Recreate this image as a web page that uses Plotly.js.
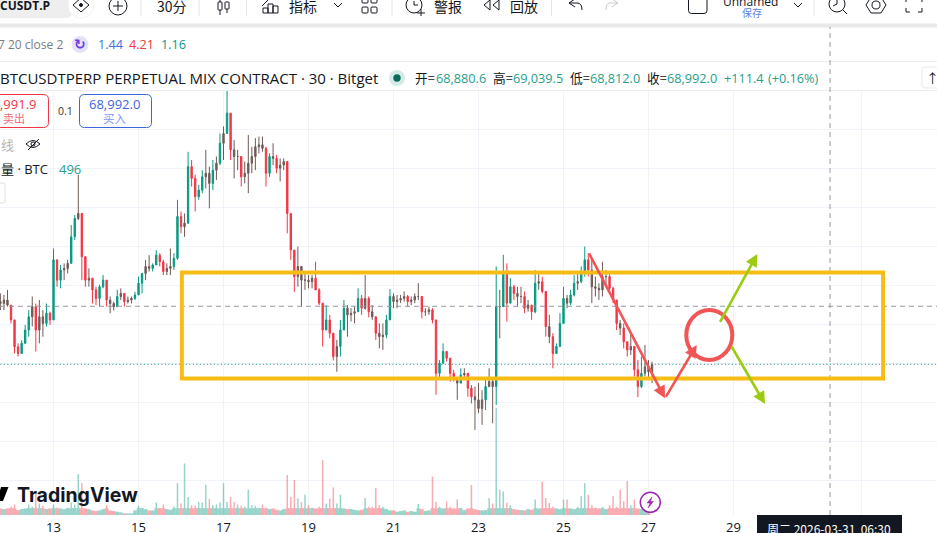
<!DOCTYPE html>
<html><head><meta charset="utf-8">
<script src="https://cdn.plot.ly/plotly-3.0.1.min.js"></script>
<style>html,body{margin:0;padding:0;background:#fff;overflow:hidden}#c{width:937px;height:533px}</style>
</head><body><div id="c"></div>
<script>
// 2-hour bars, first bar 2026-03-11 18:00
const firstBarMs = Date.UTC(2026,2,11,18);
const barMs = 2*3600*1000;
const firstOpen = 70600;
const highs = [
70810,70770,70900,70470,70130,69530,69610,70000,70380,70730,70550,70640,
70380,70550,70340,71960,71670,71540,71580,71670,72560,72820,73850,72820,
71500,71450,71150,70980,71030,71280,71110,70730,70600,70900,70940,70730,
70730,70730,70850,71240,71150,71670,71790,71580,71920,71840,71670,71580,
71960,71840,73210,72910,72860,74440,74230,73850,73590,73970,74490,74060,
74230,74320,74910,75090,76020,75430,74740,74490,74190,74190,74870,74570,
74790,74830,74830,74570,74400,74660,74360,74270,74270,73970,72860,71920,
72010,71410,71330,71280,71280,71620,70940,70560,70510,70260,69790,69620,70130,
70640,70510,70430,70470,70940,70770,71280,70730,70510,70210,70040,70040,
70260,70920,70810,70770,70770,70860,70770,70730,70810,71070,70730,70430,
70470,70430,70130,69100,69530,69270,69150,68850,68590,68890,68890,68760,
68460,68420,68510,68330,68590,68890,68590,71500,70900,71800,71580,71200,
71030,70980,70980,70860,70640,70510,71410,71330,71240,70860,70260,69790,
69530,70300,70980,70770,70900,71280,71330,71500,72010,71840,71670,71240,
71070,71620,71410,71330,70980,70560,70130,70040,69570,69790,69230,69100,
69190,69490,69100,69060];
const lows = [
70380,70380,70470,70040,69270,69190,69270,69530,69700,69960,69320,69530,
69700,69960,70000,70380,70980,70940,71150,71320,71580,72180,72690,71150,
70980,70980,70550,70510,70470,70940,70470,70300,70370,70470,70640,70470,
70550,70550,70640,70850,70810,71150,71370,71370,71580,71500,71280,71280,
71280,71410,71670,72350,72260,72820,73550,72910,73210,73380,73500,72990,
73460,73720,74100,74230,74910,74230,73760,73970,73550,73630,73380,73890,
73970,74400,74440,73550,73800,74100,73890,73680,73970,72350,71670,70850,
70980,70470,70900,70940,70940,70900,70510,69450,69920,69660,69090,68800,69190,
70130,69700,70090,70040,70340,70260,70390,70200,70130,69620,69400,69360,
69660,70340,70430,70430,70560,70600,70470,70510,70560,70640,70170,70230,
70260,70040,68210,68590,69020,69060,68550,68550,68080,68510,68660,68160,
67990,67310,67740,67440,67820,68460,67480,67950,69660,70900,70090,70560,
70640,70470,70560,70300,70340,70130,70300,70900,70810,69700,69530,68890,
69270,69450,70040,70430,70510,70730,70900,71070,71240,71240,70560,70730,
70640,70730,71030,70900,70560,69870,69740,69400,69190,69230,68680,68150,
68380,68680,68660,68510];
const closes = [
70550,70640,70510,70130,69440,69270,69530,69870,70210,70470,69870,70210,
70040,70300,70130,71670,71150,71410,71450,71580,72260,72730,72860,71750,
71150,71200,70900,70680,70980,71150,70640,70550,70470,70730,70810,70600,
70640,70680,70770,71070,71320,71500,71450,71540,71790,71620,71370,71450,
71500,71710,72780,72520,72610,74060,73760,73290,73460,73800,73890,73630,
73970,74150,74660,74910,75430,74490,74320,74320,73800,73890,74150,74320,
74570,74620,74530,73890,74320,74270,74020,74100,74190,72860,71920,71240,
71500,71150,71150,71110,71200,70900,70560,69870,70130,69790,69190,69450,69870,
70430,70260,70300,70340,70680,70430,70680,70340,70210,69790,69700,69740,
70130,70730,70600,70640,70680,70730,70600,70640,70730,70730,70340,70340,
70390,70130,68760,69020,69320,69150,68760,68630,68510,68720,68760,68380,
68160,68080,67860,68080,68420,68550,68420,70470,70470,71330,70560,70980,
70810,70730,70730,70430,70510,70340,71070,71110,70860,69960,69700,69270,
69450,70040,70680,70560,70770,71070,71110,71330,71670,71410,70980,70940,
70900,71240,71240,70940,70640,70040,69920,69570,69360,69450,68850,68420,
68760,68930,68800,68992];
const volumes = [
400,360,400,500,640,300,360,400,640,500,1400,700,
560,360,400,640,440,400,360,440,760,640,2500,1940,
400,360,280,240,280,360,600,280,240,200,160,100,
100,100,280,560,440,360,280,280,760,440,640,360,
320,500,1940,700,3140,1100,600,560,800,760,1840,1000,
600,640,760,1940,800,1100,800,640,560,500,1540,600,
560,440,640,440,360,400,320,280,360,2440,1100,2140,
1000,800,1240,600,440,400,500,3340,700,1000,1680,700,1240,
400,360,360,320,280,320,1040,500,500,1640,600,500,
360,280,280,200,240,280,200,240,200,680,360,240,
280,2340,800,500,400,840,500,400,940,440,300,400,
1840,360,300,280,300,1040,700,6540,1540,1440,740,600,
360,320,300,280,360,320,940,400,2040,1040,740,500,
400,360,940,940,400,360,500,1140,1940,1240,600,440,
400,500,360,600,1140,500,1540,840,2080,600,940,400,
360,240,480];
const tickDates = ["2026-03-13","2026-03-15","2026-03-17","2026-03-19","2026-03-21","2026-03-23","2026-03-25","2026-03-27","2026-03-29","2026-04-01"];
const tickLabels = ["13","15","17","19","21","23","25","27","29","4月"];
const lastPrice = 68992;
const crosshairPrice = 70480;
const crosshairTime = "2026-03-31 06:30";
const quietVolume = 420;
const zoneBox = {t0:"2026-03-16 00:29", t1:"2026-04-01 12:29", p0:68628, p1:71346};
const ring = {t0:"2026-03-27 21:20", t1:"2026-03-28 23:19", p0:69103, p1:70385};
const redArrows = [
  ["2026-03-25 14:01",71872,"2026-03-27 09:18",68120],
  ["2026-03-27 09:18",68120,"2026-03-28 03:13",69487]];
const greenArrows = [
  ["2026-03-28 15:59",70044,"2026-03-29 13:26",71820],
  ["2026-03-28 22:25",69487,"2026-03-29 17:47",67974]];

const UP='#089981', DOWN='#f23645', MIX='#6f5a56', DARK='#131722', GRID='#f0f3fa', RED='#f25555', GREEN='#9ccc10', YEL='#f8bd14';
const FONT='"Open Sans","Noto Sans CJK SC",sans-serif', CJK='"Noto Sans CJK SC","Noto Sans",sans-serif';
const times=closes.map((_,i)=>new Date(firstBarMs+i*barMs).toISOString().slice(0,16).replace('T',' '));
const opens=closes.map((_,i)=>i?closes[i-1]:firstOpen);
const volColors=closes.map((c,i)=>c>=opens[i]?'rgba(8,153,129,0.42)':'rgba(242,54,69,0.42)');

const X=p=>(p/937).toFixed(5), Y=p=>((515-p)/425).toFixed(5);
const shapes=[], annos=[];
const P=s=>s.replace(/(-?[\d.]+)[ ,]+(-?[\d.]+)/g,(m,a,b)=>X(+a)+','+Y(+b));
function path(s,o={}){shapes.push({type:'path',xref:'paper',yref:'paper',path:P(s),line:{color:o.c||DARK,width:o.w===undefined?1:o.w},fillcolor:o.f||'rgba(0,0,0,0)',layer:'above'});}
function rr(x0,y0,x1,y1,r,o){path(`M ${x0+r} ${y0} L ${x1-r} ${y0} Q ${x1} ${y0} ${x1} ${y0+r} L ${x1} ${y1-r} Q ${x1} ${y1} ${x1-r} ${y1} L ${x0+r} ${y1} Q ${x0} ${y1} ${x0} ${y1-r} L ${x0} ${y0+r} Q ${x0} ${y0} ${x0+r} ${y0} Z`,o);}
function circ(cx,cy,r,o={}){shapes.push({type:'circle',xref:'paper',yref:'paper',x0:X(cx-r),x1:X(cx+r),y0:Y(cy+r),y1:Y(cy-r),line:{color:o.c||DARK,width:o.w===undefined?1:o.w},fillcolor:o.f||'rgba(0,0,0,0)',layer:'above'});}
function T(text,x,y,o={}){annos.push({text,xref:'paper',yref:'paper',x:+X(x),y:+Y(y),xanchor:o.a||'left',yanchor:'middle',showarrow:false,borderpad:0,
  font:{family:o.fam||FONT,size:o.s||12.7,color:o.c||DARK,weight:o.b?700:400}});}

// header panels
rr(-20,-10,72,18,6,{f:'#eeeeee',w:0});
path('M 0 25.5 L 937 25.5',{c:'#e9e9e9',w:4});
path('M 0 61.5 L 937 61.5',{c:'#ececec'});
path('M 0 90.5 L 937 90.5',{c:'#ececec'});
for(const x of [141,199,246.5,392,551.5,814]) path(`M ${x} 0 L ${x} 16`,{c:'#e4e4e4'});
// toolbar icons
circ(81,5,13,{f:'#ffffff',c:'#f3f3f3'});
path('M 81 -2 L 89 5 L 81 12 L 73 5 Z');circ(81,5,1.5,{f:DARK});
circ(118,6,9);path('M 118 1 L 118 11 M 113 6 L 123 6');
rr(218,2,222,10,.5);path('M 220 10 L 220 15 M 220 -1 L 220 2');rr(225,2,229,9,.5);path('M 227 9 L 227 13');
path('M 263 13 L 263 8 L 268 8 L 268 13 M 268 13 L 268 4 L 273 4 L 273 13 M 273 13 L 273 6 L 278 6 L 278 13 L 263 13 M 262 6 L 268 0');
path('M 334 3 L 338 7 L 342 3');
for(const [a,b] of [[362,-3],[371,-3],[362,7],[371,7]]) rr(a,b,a+6,b+6,1,{});
circ(414,5,8);path('M 414 1 L 414 5 L 418 5');path('M 417 13 L 425 13 M 421 9 L 421 16');
path('M 490 0 L 484 5 L 490 10 Z M 499 0 L 493 5 L 499 10 Z');
path('M 575 -1 L 569 3 L 575 7 M 569 3 L 577 3 Q 582 3 582 10');
path('M 612 -1 L 618 3 L 612 7 M 618 3 L 610 3 Q 606 3 606 10',{c:'#c9c9c9'});
rr(688.5,-4,707,13.5,3,{});
path('M 794 3 L 798 7 L 802 3');
circ(837,4,8);path('M 843 10 L 847 14 M 837 0 L 837 4 L 833 6');
path('M 871 -3 L 881 -3 L 886 5 L 881 13 L 871 13 L 866 5 Z');circ(876,5,4);
path('M 906 8 L 906 12 L 910 12 M 918 12 L 922 12 L 922 8 M 906 2 L 906 -2 M 922 2 L 922 -2');
T('CUSDT.P',-1,5,{s:12,b:1});
T('30分',156,6,{s:14,fam:CJK});T('指标',288,6,{s:14,fam:CJK});T('警报',433,6,{s:14,fam:CJK});T('回放',509,6,{s:14,fam:CJK});
T('Unnamed',722,1,{s:12});T('保存',741,12.5,{s:10,c:'#5d84e8',fam:CJK});
// indicator row
T('7 20 close 2',-3,44.5,{s:12,c:'#787b86'});
circ(80,44.5,8.5,{f:'#e7e1f8',w:0});T('↻',80,44,{a:'center',s:14,c:'#6a3de0',fam:'DejaVu Sans',b:1});
T('1.44',97,44.5,{c:'#3f6fe0'});T('4.21',128,44.5,{c:DOWN});T('1.16',160,44.5,{c:UP});
// symbol row
T('BTCUSDTPERP PERPETUAL MIX CONTRACT · 30 · Bitget',-1,78,{s:15});
circ(397,78,8,{f:'#d4ece8',w:0});circ(397,78,3.7,{f:'#0b6b5a',w:0});
const tc='#26a08a';
T('开=',414,78,{fam:CJK});T('68,880.6',435,78,{c:tc});
T('高=',492,78,{fam:CJK});T('69,039.5',512,78,{c:tc});
T('低=',569,78,{fam:CJK});T('68,812.0',589,78,{c:tc});
T('收=',646,78,{fam:CJK});T('68,992.0',666,78,{c:tc});
T('+111.4',723,78,{c:tc});T('(+0.16%)',767,78,{c:tc});
rr(922,67,945,88,3,{c:'#e8e8e8'});T('↑',933,78,{a:'center',s:13});
// order buttons
rr(-30,94.5,48.5,127.5,5,{c:DOWN,f:'#ffffff'});
T(',991.9',38,104,{a:'right',s:13,c:DOWN});T('卖出',2,118,{s:11,c:'#ef6a77',fam:CJK});
T('0.1',57,110.5,{s:10.5,c:'#333'});
rr(79.5,94.5,151.5,127.5,5,{c:'#3b66d8',f:'#ffffff'});
T('68,992.0',115,104,{a:'center',s:13,c:'#3b66d8'});T('买入',115,118,{a:'center',s:11.5,c:'#7c9af0',fam:CJK});
// study legend
T('线',0,145,{s:13,c:'#b5b5b5',fam:CJK});
path('M 26 144 Q 33 137 40 144 Q 33 151 26 144 Z');circ(33,144,2);path('M 28 150 L 39 139');
T('量 · BTC',0,169,{s:13});T('496',58,169,{s:13,c:tc});
rr(-10,183,5,203,2,{c:'#e2e2e2'});
// watermark
path('M 1 487 L 8.5 487 L 3 501 L -3 501 Z',{f:'#000',w:0});
T('TradingView',16,495,{s:19.5,b:1,c:'#131722',fam:'Inter,"Open Sans",sans-serif'});
circ(650.3,502.3,10,{c:'#9c27b0',w:1.5,f:'#ffffff'});
path('M 652 497 L 647 503 L 650 503 L 648 508 L 653.5 501.5 L 650.5 501.5 Z',{f:'#9c27b0',c:'#9c27b0',w:.5});
// time label
shapes.push({type:'rect',xref:'paper',yref:'paper',x0:X(757),x1:X(902),y0:Y(540),y1:Y(515),fillcolor:'#131722',line:{width:0},layer:'above'});
T('周二 2026-03-31  06:30',766,529,{s:12,c:'#fff',fam:CJK});

// drawings on the chart scales
shapes.push({type:'line',xref:'x',yref:'y2',x0:times[0],x1:'2026-04-03',y0:lastPrice,y1:lastPrice,line:{color:'#0a8f78',width:1,dash:'1px,2.5px'},layer:'above'});
shapes.push({type:'line',xref:'paper',yref:'y2',x0:0,x1:1,y0:crosshairPrice,y1:crosshairPrice,line:{color:'#9598a1',width:1,dash:'5px,4px'},layer:'above'});
shapes.push({type:'line',xref:'x',yref:'paper',x0:crosshairTime,x1:crosshairTime,y0:0,y1:+Y(27),line:{color:'#9598a1',width:1,dash:'5px,4px'},layer:'above'});
shapes.push({type:'rect',xref:'x',yref:'y2',x0:zoneBox.t0,x1:zoneBox.t1,y0:zoneBox.p0,y1:zoneBox.p1,line:{color:YEL,width:4},fillcolor:'rgba(0,0,0,0)',layer:'above'});
shapes.push({type:'circle',xref:'x',yref:'y2',x0:ring.t0,x1:ring.t1,y0:ring.p0,y1:ring.p1,line:{color:RED,width:4},fillcolor:'rgba(0,0,0,0)',layer:'above'});
function arrow(a,c){annos.push({xref:'x',yref:'y2',axref:'x',ayref:'y2',x:a[2],y:a[3],ax:a[0],ay:a[1],text:'',showarrow:true,arrowhead:2,arrowsize:0.95,arrowwidth:2.6,arrowcolor:c,standoff:0,startstandoff:0});}
redArrows.forEach(a=>arrow(a,RED));greenArrows.forEach(a=>arrow(a,GREEN));

// bars: strongly one-way bars keep their colour, choppy ones show the red/green blend
const groups={up:[],down:[],mix:[]};
closes.forEach((c,i)=>{const body=Math.abs(c-opens[i]),range=highs[i]-lows[i];
  (body/range<0.4?groups.mix:c>=opens[i]?groups.up:groups.down).push(i);});
const pick=(a,g)=>g.map(i=>a[i]);
function candles(g,col){return {type:'candlestick',x:pick(times,g),open:pick(opens,g),high:pick(highs,g),low:pick(lows,g),close:pick(closes,g),xaxis:'x',yaxis:'y2',whiskerwidth:0,hoverinfo:'skip',showlegend:false,
  increasing:{line:{color:col,width:1},fillcolor:col},decreasing:{line:{color:col,width:1},fillcolor:col}};}
const traces=[
 {type:'bar',x:times,y:volumes.map(v=>Math.min(v,quietVolume)),marker:{color:volColors,line:{width:0}},width:barMs,xaxis:'x',yaxis:'y',hoverinfo:'skip',showlegend:false},
 {type:'bar',x:times,base:volumes.map(v=>Math.min(v,quietVolume)),y:volumes.map(v=>Math.max(v-quietVolume,0)),marker:{color:volColors,line:{width:0}},width:barMs*0.42,xaxis:'x',yaxis:'y',hoverinfo:'skip',showlegend:false},
 candles(groups.mix,MIX),candles(groups.up,UP),candles(groups.down,DOWN)
];
const layout={width:937,height:533,margin:{l:0,r:0,t:90,b:18,pad:0},paper_bgcolor:'#fff',plot_bgcolor:'#fff',showlegend:false,boxgap:0.45,barmode:'overlay',
 xaxis:{type:'date',range:['2026-03-11 17:47','2026-04-02 18:55'],tickmode:'array',tickvals:tickDates,ticktext:tickLabels,tickangle:0,showgrid:true,gridcolor:GRID,gridwidth:1,zeroline:false,showline:false,ticks:'',ticklabelstandoff:3,tickfont:{family:FONT,size:13,color:DARK},rangeslider:{visible:false},fixedrange:true},
 yaxis:{range:[0,25925],showgrid:false,showticklabels:false,zeroline:false,ticks:'',fixedrange:true},
 yaxis2:{overlaying:'y',side:'right',range:[65128,76025],tick0:0,dtick:1000,showgrid:true,gridcolor:GRID,gridwidth:1,showticklabels:false,zeroline:false,ticks:'',fixedrange:true},
 shapes,annotations:annos};
Plotly.newPlot('c',traces,layout,{displayModeBar:false,staticPlot:true,responsive:false});
</script></body></html>
